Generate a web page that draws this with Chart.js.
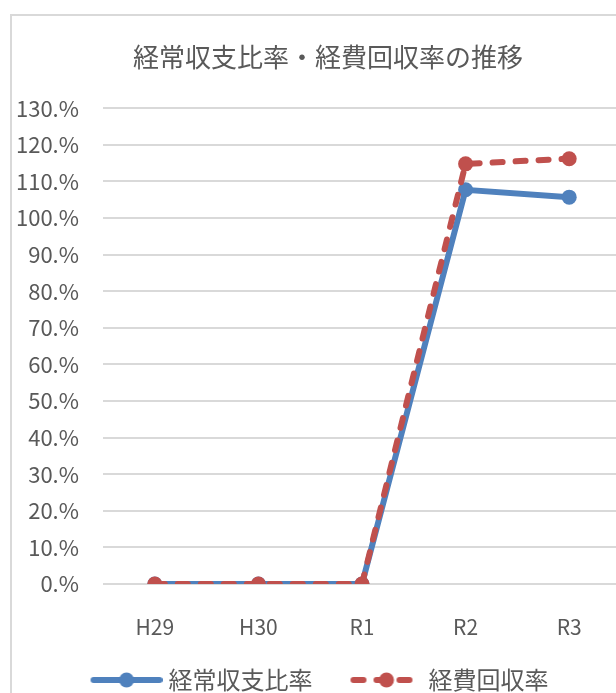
<!DOCTYPE html>
<html lang="ja">
<head>
  <meta charset="UTF-8">
  <title>経常収支比率・経費回収率の推移</title>
  <script src="https://cdn.jsdelivr.net/npm/chart.js"></script>
  <style>
    html, body {
      margin: 0;
      padding: 0;
      overflow: hidden;
      background: #fff;
    }
    #chart-wrapper {
      position: absolute;
      left: 10px;
      top: 14px;
      width: 640px;
      height: 700px;
      border: 2px solid #d9d9d9;
      box-sizing: border-box;
    }
  </style>
</head>
<body>

<div id="chart-wrapper">
  <canvas id="rateChart"></canvas>
</div>

<script>
  const years = ['H29', 'H30', 'R1', 'R2', 'R3'];
  const ordinaryBalanceRatio = [0, 0, 0, 107.7, 105.7];
  const costRecoveryRatio = [0, 0, 0, 114.8, 116.2];
  const seriesNames = ['経常収支比率', '経費回収率'];

  const BLUE = '#4f81bd';
  const RED = '#c0504d';
  const TEXT = '#595959';
  const FONT = "'Noto Sans CJK JP', 'Noto Sans', sans-serif";

  // line+marker picture for the legend, like Excel draws it.
  // it is centred on a 77px legend box and ends just before the text
  function legendSymbol(color, dashed) {
    const c = document.createElement('canvas');
    c.width = 89;
    c.height = 18;
    const g = c.getContext('2d');
    g.strokeStyle = color;
    g.lineWidth = 6;
    g.lineCap = 'round';
    if (dashed) g.setLineDash([10, 13]);
    g.beginPath();
    g.moveTo(20, 9);
    g.lineTo(86, 9);
    g.stroke();
    g.setLineDash([]);
    g.fillStyle = color;
    g.beginPath();
    g.arc(53, 9, 7.5, 0, Math.PI * 2);
    g.fill();
    return c;
  }

  const symbols = [legendSymbol(BLUE, false), legendSymbol(RED, true)];

  // small nudge: Excel's title sits a bit right of the centre, legend a bit left
  const nudge = {
    id: 'nudge',
    afterLayout(chart) {
      chart.titleBlock.left += 10;
      chart.titleBlock.right += 10;
      chart.legend.left -= 4;
      chart.legend.right -= 4;
    }
  };

  const ctx = document.getElementById('rateChart').getContext('2d');

  const rateChart = new Chart(ctx, {
    type: 'line',
    data: {
      labels: years,
      datasets: [
        {
          label: seriesNames[0],
          data: ordinaryBalanceRatio,
          borderColor: BLUE,
          backgroundColor: BLUE,
          borderWidth: 6,
          pointRadius: 7.5,
          pointBorderWidth: 0,
          pointHoverRadius: 7.5,
          tension: 0,
          order: 1
        },
        {
          label: seriesNames[1],
          data: costRecoveryRatio,
          borderColor: RED,
          backgroundColor: RED,
          borderWidth: 6,
          borderDash: [10, 13],
          borderCapStyle: 'round',
          pointRadius: 7.5,
          pointBorderWidth: 0,
          pointHoverRadius: 7.5,
          tension: 0,
          order: 0
        }
      ]
    },
    options: {
      responsive: true,
      maintainAspectRatio: false,
      animation: false,
      layout: {
        padding: { left: 3, right: 27, top: 0, bottom: 10 }
      },
      plugins: {
        title: {
          display: true,
          text: '経常収支比率・経費回収率の推移',
          color: TEXT,
          font: { family: FONT, size: 26, weight: 'normal' },
          padding: { top: 26, bottom: 35 }
        },
        legend: {
          position: 'bottom',
          labels: {
            color: TEXT,
            font: { family: FONT, size: 24 },
            usePointStyle: true,
            pointStyleWidth: 77,
            padding: 27,
            generateLabels: function(chart) {
              return chart.data.datasets.map((ds, i) => ({
                text: ds.label,
                pointStyle: symbols[i],
                fillStyle: ds.borderColor,
                strokeStyle: ds.borderColor,
                lineWidth: 0,
                fontColor: TEXT,
                hidden: !chart.isDatasetVisible(i),
                datasetIndex: i
              }));
            }
          }
        },
        tooltip: {
          callbacks: {
            label: function(context) {
              return `${context.dataset.label}: ${context.raw.toFixed(1)}%`;
            }
          }
        }
      },
      scales: {
        x: {
          offset: true,
          grid: { display: false },
          border: { display: false },
          ticks: {
            color: TEXT,
            font: { family: FONT, size: 21 },
            padding: 22
          },
          afterFit: function(scale) {
            scale.height = 57;
          }
        },
        y: {
          min: 0,
          max: 130,
          border: { display: false },
          grid: {
            color: '#d9d9d9',
            lineWidth: 2,
            drawTicks: false
          },
          ticks: {
            stepSize: 10,
            color: TEXT,
            font: { family: FONT, size: 22 },
            padding: 24,
            callback: function(value) {
              return value + '.%';
            }
          },
          afterFit: function(scale) {
            scale.width = 88;
          }
        }
      }
    },
    plugins: [nudge]
  });
</script>

</body>
</html>
